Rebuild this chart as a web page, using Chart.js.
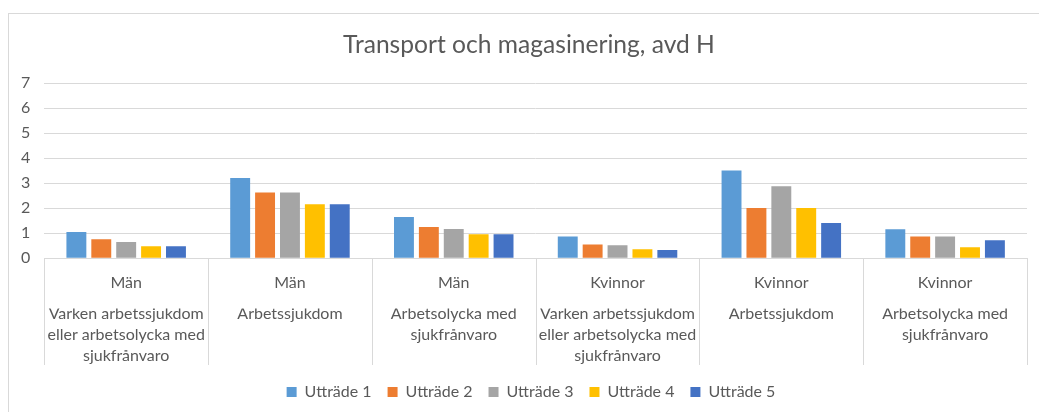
<!DOCTYPE html>
<html>
<head>
  <script src="https://cdn.jsdelivr.net/npm/chart.js"></script>
  <title>Transport och magasinering, avd H</title>
  <style>
    body { margin: 0; background: #fff; }
    #wrap { position: relative; width: 1039px; height: 412px; overflow: hidden; }
    #frame { position: absolute; left: 8px; top: 13px; width: 1100px; height: 500px; border: 1px solid #d9d9d9; }
    #chart { position: absolute; left: 0; top: 0; }
  </style>
</head>
<body>
  <div id="wrap">
    <div id="frame"></div>
    <canvas id="chart" width="1039" height="412"></canvas>
  </div>

  <script>
    // data
    let groups = ['Män', 'Män', 'Män', 'Kvinnor', 'Kvinnor', 'Kvinnor'];
    let causes = [
      ['Varken arbetssjukdom', 'eller arbetsolycka med', 'sjukfrånvaro'],
      ['Arbetssjukdom'],
      ['Arbetsolycka med', 'sjukfrånvaro'],
      ['Varken arbetssjukdom', 'eller arbetsolycka med', 'sjukfrånvaro'],
      ['Arbetssjukdom'],
      ['Arbetsolycka med', 'sjukfrånvaro']
    ];
    let seriesNames = ['Utträde 1', 'Utträde 2', 'Utträde 3', 'Utträde 4', 'Utträde 5'];
    let utt1 = [1.05, 3.2, 1.65, 0.87, 3.5, 1.16];
    let utt2 = [0.76, 2.63, 1.25, 0.55, 2.01, 0.87];
    let utt3 = [0.65, 2.63, 1.17, 0.52, 2.88, 0.87];
    let utt4 = [0.48, 2.16, 0.96, 0.36, 2.01, 0.44];
    let utt5 = [0.48, 2.16, 0.96, 0.33, 1.41, 0.72];
    let yTicks = [0, 1, 2, 3, 4, 5, 6, 7];

    let colors = ['#5b9bd5', '#ed7d31', '#a5a5a5', '#ffc000', '#4472c4'];
    let values = [utt1, utt2, utt3, utt4, utt5];
    let textColor = '#595959';
    let lineColor = '#d9d9d9';

    // vertical separators between categories below the axis
    let separators = {
      id: 'separators',
      afterLayout(chart) {
        // the original centres title and legend a bit right of the canvas middle
        chart.titleBlock.left += 12;
        chart.titleBlock.right += 12;
        chart.legend.left += 14;
        chart.legend.right += 14;
      },
      afterDraw(chart) {
        let x = chart.scales.x;
        let x2 = chart.scales.x2;
        let n = groups.length;
        let step = (x.right - x.left) / n;
        let c = chart.ctx;
        c.save();
        c.strokeStyle = lineColor;
        c.lineWidth = 1;
        c.beginPath();
        for (let i = 0; i <= n; i++) {
          let px = Math.round(x.getPixelForValue(0) - step / 2 + i * step) + 0.5;
          c.moveTo(px, x.top);
          c.lineTo(px, x2.bottom - 3);
        }
        c.stroke();
        c.restore();
      }
    };

    Chart.defaults.font.family = 'Lato, "Open Sans", sans-serif';
    Chart.defaults.color = textColor;

    let ctx = document.getElementById('chart').getContext('2d');
    new Chart(ctx, {
      type: 'bar',
      data: {
        labels: groups,
        datasets: seriesNames.map((name, i) => ({
          label: name,
          data: values[i],
          backgroundColor: colors[i],
          barPercentage: 0.8,
          categoryPercentage: 0.76
        }))
      },
      options: {
        responsive: false,
        animation: false,
        layout: { padding: { top: 20, left: 7, right: 12, bottom: 2 } },
        plugins: {
          title: {
            display: true,
            text: 'Transport och magasinering, avd H',
            color: textColor,
            font: { size: 24.6, weight: 'normal' },
            padding: { top: 10.2, bottom: 23.3 }
          },
          legend: {
            position: 'bottom',
            labels: {
              boxWidth: 10,
              boxHeight: 10,
              padding: 16,
              color: textColor,
              font: { size: 16 }
            }
          },
          tooltip: { enabled: false }
        },
        scales: {
          y: {
            min: 0,
            max: 7,
            afterBuildTicks(axis) { axis.ticks = yTicks.map(v => ({ value: v })); },
            grid: { color: lineColor, drawTicks: false },
            border: { display: false },
            ticks: { padding: 14, font: { size: 16 }, color: textColor }
          },
          x: {
            weight: 0,
            grid: { display: false, drawTicks: false },
            border: { display: true, color: lineColor },
            ticks: { padding: 15.5, font: { size: 16 }, color: textColor, maxRotation: 0, autoSkip: false }
          },
          x2: {
            type: 'category',
            position: 'bottom',
            weight: 1,
            labels: groups,
            grid: { display: false, drawTicks: false },
            border: { display: false },
            afterFit(axis) { axis.height += 6; },
            ticks: {
              padding: -4.7,
              font: { size: 16, lineHeight: '21px' },
              color: textColor,
              maxRotation: 0,
              autoSkip: false,
              callback: (v, i) => causes[i]
            }
          }
        }
      },
      plugins: [separators]
    });
  </script>
</body>
</html>
